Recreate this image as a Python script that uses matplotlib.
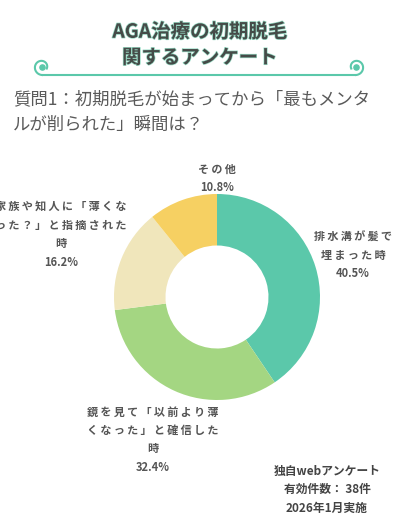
import numpy as np
import matplotlib
matplotlib.use('Agg')
import matplotlib.pyplot as plt
import matplotlib.patheffects as pe

plt.rcParams['font.family'] = ['Noto Sans CJK JP', 'DejaVu Sans']

# data
categories = ['排水溝が髪で\n埋まった時',
              '鏡を見て「以前より薄\nくなった」と確信した\n時',
              '家族や知人に「薄くな\nった？」と指摘された\n時',
              'その他']
values = [40.5, 32.4, 16.2, 10.8]
colors = ['#5BC8AA', '#A4D682', '#F0E6BB', '#F6D062']

title = 'AGA治療の初期脱毛\n関するアンケート'
question = '質問1：初期脱毛が始まってから「最もメンタ\nルが削られた」瞬間は？'
footnote = ['独自webアンケート', '有効件数： 38件', '2026年1月実施']


def spaced(s):
    # thin space between characters, like the letter-spaced labels
    return '\n'.join('\u2009'.join(line) for line in s.split('\n'))


W, H = 400, 530
fig = plt.figure(figsize=(W / 100, H / 100), dpi=100)
fig.patch.set_facecolor('white')

# overlay axes in pixel coords for text and decoration
bg = fig.add_axes([0, 0, 1, 1])
bg.set_xlim(0, W)
bg.set_ylim(H, 0)
bg.axis('off')

green = '#5BC8AA'
bg.text(200, 45, title, ha='center', va='center', fontsize=14, fontweight='bold',
        color='#454b48', linespacing=1.45,
        path_effects=[pe.withStroke(linewidth=1.0, foreground='#9adcc6')])

# decorative line with curls
bg.plot([42, 356], [75, 75], color=green, lw=1.5, solid_capstyle='round')
t = np.linspace(0, 1.6 * np.pi, 120)
r = 8 - 3.0 * t / t.max()
bg.plot(42 - r * np.sin(t), 67 + r * np.cos(t), color=green, lw=1.5)
bg.plot(356 + r * np.sin(t), 67 + r * np.cos(t), color=green, lw=1.5)
bg.scatter([42, 356], [67, 67], s=14, color=green, zorder=3)

bg.text(13, 112, question, ha='left', va='center', fontsize=12.5,
        color='#5a5a5a', linespacing=1.5)

for i, line in enumerate(footnote):
    bg.text(327, 471 + i * 18.5, line, ha='center', va='center', fontsize=8.5,
            fontweight='bold', color='#444444')

# donut
cx, cy, R = 217, 297, 103
ax = fig.add_axes([(cx - R) / W, (H - cy - R) / H, 2 * R / W, 2 * R / H])
wedges, _ = ax.pie(values, colors=colors, startangle=90, counterclock=False,
                   radius=1, wedgeprops=dict(width=0.5, edgecolor='none'))
ax.set_xlim(-1, 1)
ax.set_ylim(-1, 1)
ax.axis('off')

label_dist = [1.38, 1.52, 1.63, 1.15]
angle_override = [None, None, None, 90]
for w, name, v, d, ov in zip(wedges, categories, values, label_dist, angle_override):
    ang = (w.theta1 + w.theta2) / 2 if ov is None else ov
    x = d * np.cos(np.radians(ang))
    y = d * np.sin(np.radians(ang))
    ax.text(x, y, f'{spaced(name)}\n{v}%', ha='center', va='center', fontsize=8,
            fontweight='bold', color='#555555', linespacing=1.55, clip_on=False)

fig.savefig('out.png', dpi=100)
